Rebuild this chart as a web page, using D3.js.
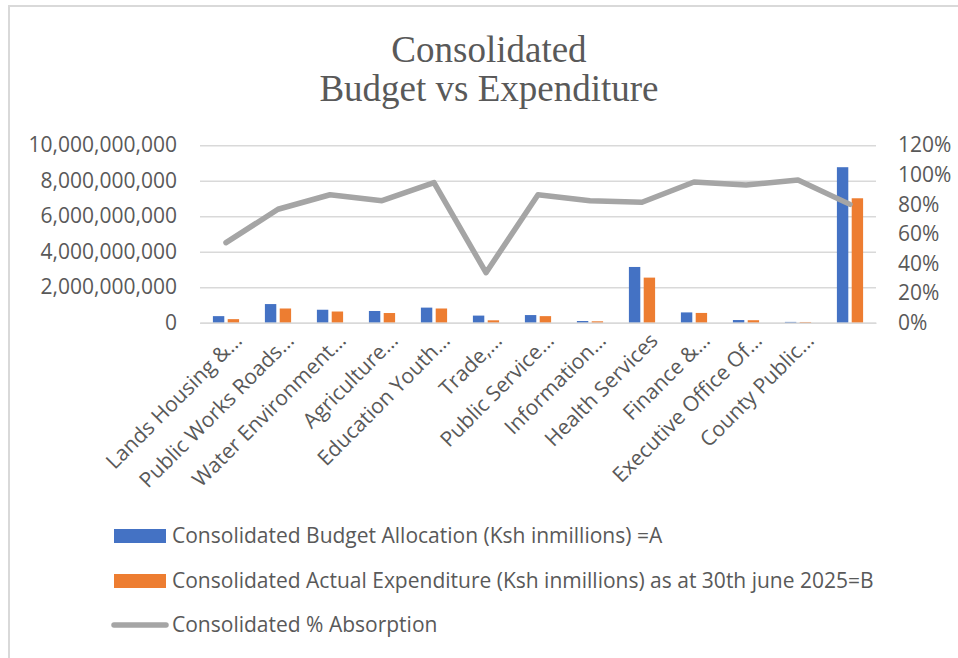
<!DOCTYPE html>
<html>
<head>
<meta charset="utf-8">
<script src="https://cdn.jsdelivr.net/npm/d3@7"></script>
<style>
  html, body { margin: 0; padding: 0; background: #fff; }
  svg { display: block; }
</style>
</head>
<body>
<svg id="chart" width="958" height="658"></svg>
<script>
// ---- data ----
const categories = [
  "Lands Housing &…", "Public Works Roads…", "Water Environment…", "Agriculture…",
  "Education Youth…", "Trade,…", "Public Service…", "Information…",
  "Health Services", "Finance &…", "Executive Office Of…", "County Public…", ""
];
const budget = [
  370000000, 1050000000, 730000000, 660000000, 850000000, 400000000, 430000000,
  95000000, 3140000000, 580000000, 150000000, 45000000, 8760000000
];
const expenditure = [
  200000000, 800000000, 630000000, 545000000, 800000000, 135000000, 370000000,
  78000000, 2540000000, 550000000, 140000000, 40000000, 7010000000
];
const absorption = [
  0.541, 0.767, 0.865, 0.825, 0.947, 0.338, 0.865, 0.825, 0.814, 0.951, 0.931, 0.965, 0.80
];
const leftTicks = [0, 2e9, 4e9, 6e9, 8e9, 10e9];
const rightTicks = [0, 0.2, 0.4, 0.6, 0.8, 1.0, 1.2];
const titleLines = ["Consolidated", "Budget vs Expenditure"];
const legendLabels = [
  "Consolidated Budget Allocation (Ksh inmillions) =A",
  "Consolidated Actual Expenditure (Ksh inmillions) as at 30th june 2025=B",
  "Consolidated % Absorption"
];

// ---- styles ----
const C_BLUE = "#4472c4", C_ORANGE = "#ed7d31", C_GRAY = "#a5a5a5";
const C_TEXT = "#595959", C_GRID = "#d9d9d9";
const FONT = "'Open Sans', 'Noto Sans', sans-serif";

const svg = d3.select("#chart");

// chart border (left & top visible)
svg.append("rect").attr("x", 9).attr("y", 6).attr("width", 1000).attr("height", 700)
  .attr("fill", "none").attr("stroke", C_GRID).attr("stroke-width", 2);

// title
const title = svg.append("text").attr("text-anchor", "middle")
  .attr("font-family", "'Liberation Serif', 'Times New Roman', serif")
  .attr("font-size", 37).attr("fill", C_TEXT);
titleLines.forEach((t, i) => {
  title.append("tspan").attr("x", 489).attr("y", 62 + i * 38.5).text(t);
});

// scales
const plot = { left: 200, right: 876, top: 145.2, bottom: 322.7 };
const idx = categories.map((d, i) => i);
const x = d3.scaleBand().domain(idx).range([plot.left, plot.right]);
const x1 = d3.scaleBand().domain(["budget", "expenditure"])
  .range([x.bandwidth() / 2 - 13.1, x.bandwidth() / 2 + 13.1]).paddingInner(0.23);
const yL = d3.scaleLinear().domain([0, 10e9]).range([plot.bottom, plot.top]);
const yR = d3.scaleLinear().domain([0, 1.2]).range([plot.bottom, plot.top]);

// gridlines
const gGrid = svg.append("g")
  .attr("transform", `translate(${plot.left},0)`)
  .call(d3.axisLeft(yL).tickValues(leftTicks).tickSize(-(plot.right - plot.left)).tickFormat(""));
gGrid.select(".domain").remove();
gGrid.selectAll("line").attr("stroke", C_GRID).attr("stroke-width", 1.6);

// left axis labels
const gL = svg.append("g")
  .attr("transform", `translate(${plot.left},0)`)
  .call(d3.axisLeft(yL).tickValues(leftTicks).tickSize(0).tickPadding(23)
    .tickFormat(d3.format(",")));
gL.select(".domain").remove();
gL.selectAll("text").attr("font-family", FONT).attr("font-size", 21).attr("fill", C_TEXT);

// right axis labels
const gR = svg.append("g")
  .attr("transform", `translate(${plot.right},0)`)
  .call(d3.axisRight(yR).tickValues(rightTicks).tickSize(0).tickPadding(22)
    .tickFormat(d3.format(".0%")));
gR.select(".domain").remove();
gR.selectAll("text").attr("font-family", FONT).attr("font-size", 21).attr("fill", C_TEXT);

// bars
const series = [
  { key: "budget", values: budget, color: C_BLUE },
  { key: "expenditure", values: expenditure, color: C_ORANGE }
];
series.forEach(s => {
  svg.append("g").selectAll("rect").data(s.values).join("rect")
    .attr("x", (d, i) => x(i) + x1(s.key))
    .attr("width", x1.bandwidth())
    .attr("y", d => yL(d))
    .attr("height", d => yL(0) - yL(d))
    .attr("fill", s.color);
});

// x axis
const gX = svg.append("g")
  .attr("transform", `translate(0,${plot.bottom})`)
  .call(d3.axisBottom(x).tickSize(0).tickFormat(i => categories[i]));
gX.select(".domain").attr("stroke", C_GRID).attr("stroke-width", 1.6);
gX.selectAll("text")
  .attr("font-family", FONT).attr("font-size", 21).attr("fill", C_TEXT)
  .attr("text-anchor", "end")
  .attr("x", 0).attr("y", 0).attr("dy", "0.35em")
  .attr("transform", "translate(12,14) rotate(-45)");

// line
const line = d3.line().x((d, i) => x(i) + x.bandwidth() / 2).y(d => yR(d));
svg.append("path").datum(absorption)
  .attr("d", line).attr("fill", "none")
  .attr("stroke", C_GRAY).attr("stroke-width", 5.5)
  .attr("stroke-linejoin", "round").attr("stroke-linecap", "round");

// legend
const lg = svg.append("g");
const rowsY = [536, 581, 625];
legendLabels.forEach((t, i) => {
  const row = lg.append("g").attr("transform", `translate(0,${rowsY[i]})`);
  if (i < 2) {
    row.append("rect").attr("x", 114).attr("y", -7).attr("width", 52).attr("height", 14)
      .attr("fill", i === 0 ? C_BLUE : C_ORANGE);
  } else {
    row.append("line").attr("x1", 114).attr("x2", 166).attr("y1", 0).attr("y2", 0)
      .attr("stroke", C_GRAY).attr("stroke-width", 5.5).attr("stroke-linecap", "round");
  }
  row.append("text").attr("x", 172).attr("y", 0).attr("dy", "0.35em")
    .attr("font-family", FONT).attr("font-size", 21).attr("fill", C_TEXT).text(t);
});
</script>
</body>
</html>
